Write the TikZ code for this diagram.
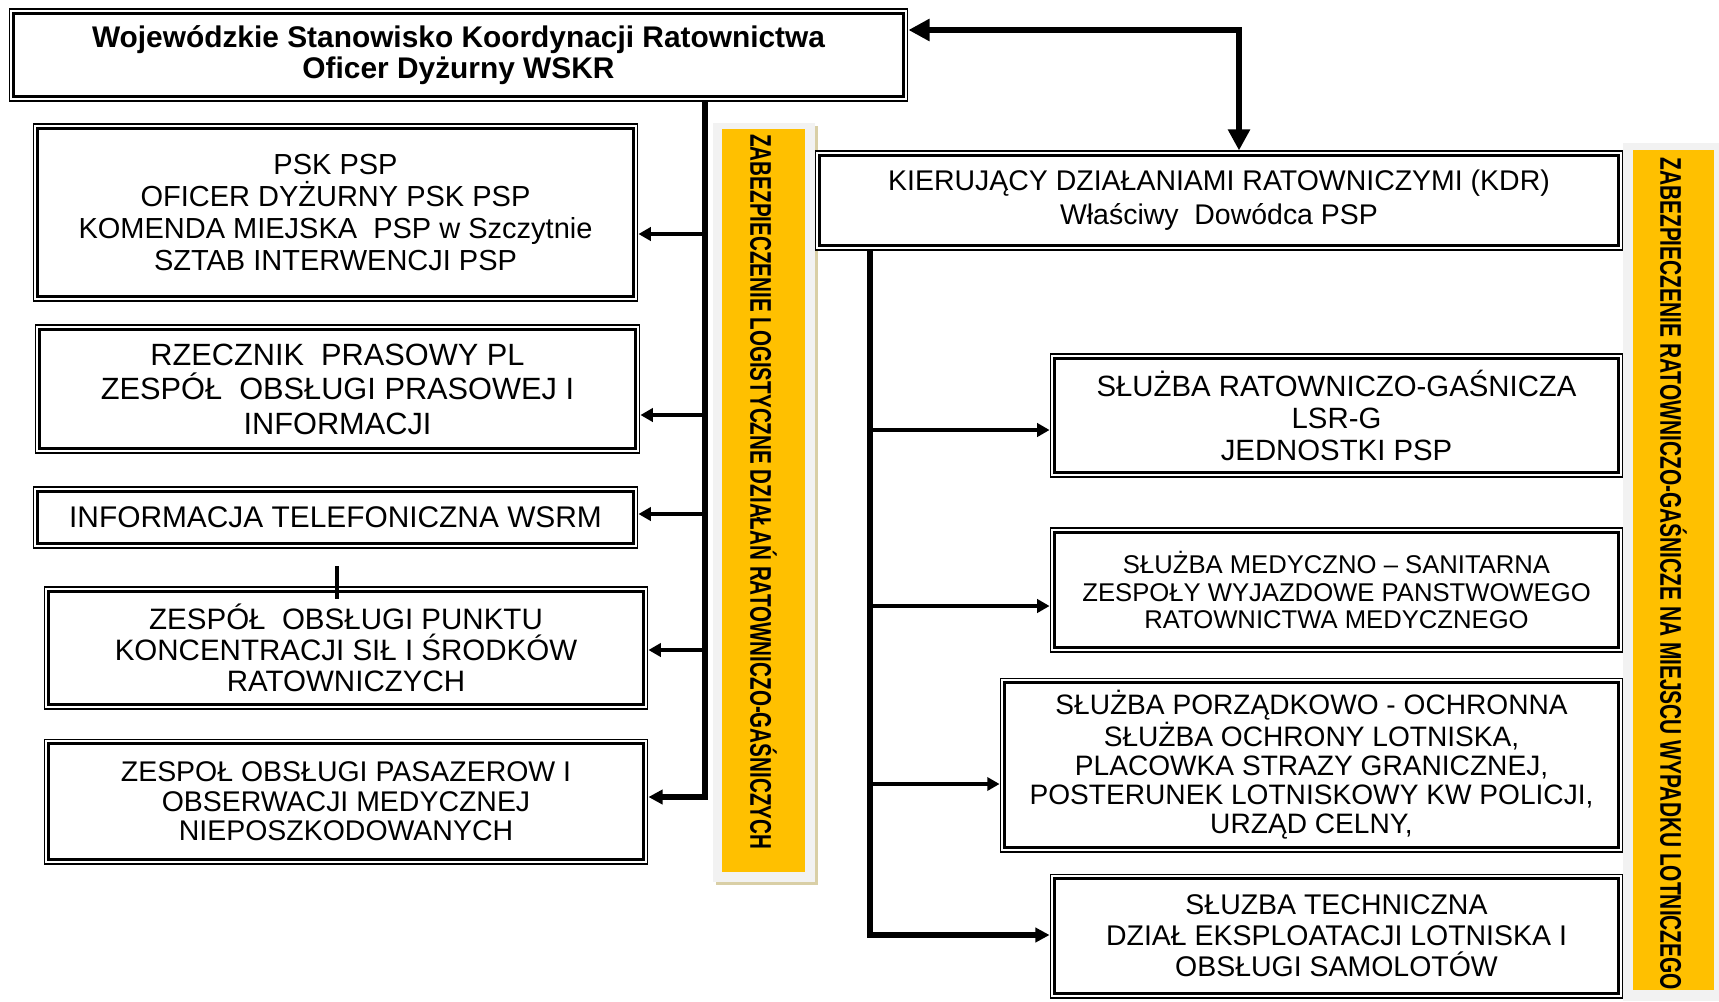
\documentclass[tikz,border=0pt]{standalone}
\usepackage{fontspec}
\setmainfont{Liberation Sans}
\usepackage{graphicx}
\usepackage{tikz}
\usetikzlibrary{arrows.meta,calc}
\definecolor{barYellow}{HTML}{FFC000}
\definecolor{barGrey}{HTML}{F2F2F2}
\definecolor{barShadow}{HTML}{D9CFA6}
\tikzset{
  orgbox/.style={draw, line width=0.6pt, fill=white, align=center, inner sep=2pt,
    path picture={\draw[line width=1.6pt]
      ([shift={(2.6pt,-2.6pt)}]path picture bounding box.north west) rectangle
      ([shift={(-2.6pt,2.6pt)}]path picture bounding box.south east);}},
  trunkline/.style={line width=3.4pt},
  arr/.style={-{Triangle[length=7pt,width=7.5pt]}, line width=2.2pt},
  trunkarr/.style={trunkline, -{Triangle[length=8pt,width=8pt]}},
  bigarr/.style={{Triangle[length=12pt,width=12pt]}-{Triangle[length=12pt,width=12pt]}, line width=3.2pt},
  bartext/.style={rotate=-90, anchor=west, inner sep=0pt, font=\fontsize{17}{17}\selectfont\bfseries}
}

\begin{document}
\begin{tikzpicture}[x=0.02cm,y=-0.02cm]
    \useasboundingbox (0,0) rectangle (1719,1001);
    \fill[barShadow] (716,126) rectangle (818,885);
    \fill[barGrey] (713,123) rectangle (815,882);
    \fill[barYellow] (722,129) rectangle (805,872);
    \node[bartext] (lbar) at (763.5,134)
      {\scalebox{0.69}[1]{ZABEZPIECZENIE LOGISTYCZNE DZIAŁAŃ RATOWNICZO-GAŚNICZYCH}};
    \fill[barGrey] (1623,143) rectangle (1719,1001);
    \fill[barYellow] (1633,150) rectangle (1714,990);
    \node[bartext] (rbar) at (1673.5,157)
      {\scalebox{0.7}[1]{ZABEZPIECZENIE RATOWNICZO-GAŚNICZE NA MIEJSCU WYPADKU LOTNICZEGO}};

    \node[orgbox, minimum width=17.98cm, minimum height=1.84cm,
      font=\fontsize{17}{18}\selectfont\bfseries] (wskr) at (458.5,55)
      {Wojewódzkie Stanowisko Koordynacji Ratownictwa\\Oficer Dyżurny WSKR};
    \node[orgbox, minimum width=12.1cm, minimum height=3.54cm,
      font=\fontsize{16.5}{18.3}\selectfont] (psk) at (335.5,212.5)
      {PSK PSP\\OFICER DYŻURNY PSK PSP\\KOMENDA MIEJSKA\ \ PSP w Szczytnie\\SZTAB INTERWENCJI PSP};
    \node[orgbox, minimum width=12.1cm, minimum height=2.56cm,
      font=\fontsize{17.5}{19.6}\selectfont] (rzecznik) at (337.5,389)
      {RZECZNIK\ \ PRASOWY PL\\ZESPÓŁ\ \ OBSŁUGI PRASOWEJ I\\INFORMACJI};
    \node[orgbox, minimum width=12.1cm, minimum height=1.22cm,
      font=\fontsize{17}{19}\selectfont] (info) at (335.5,517.5)
      {INFORMACJA TELEFONICZNA WSRM};
    \node[orgbox, minimum width=12.08cm, minimum height=2.44cm,
      font=\fontsize{16.8}{17.8}\selectfont] (punkt) at (346,648)
      {ZESPÓŁ\ \ OBSŁUGI PUNKTU\\KONCENTRACJI SIŁ I ŚRODKÓW\\RATOWNICZYCH};
    \node[orgbox, minimum width=12.08cm, minimum height=2.5cm,
      font=\fontsize{16.2}{16.8}\selectfont] (pasazer) at (346,801.5)
      {ZESPOŁ OBSŁUGI PASAZEROW I\\OBSERWACJI MEDYCZNEJ\\NIEPOSZKODOWANYCH};

    \node[orgbox, minimum width=16.16cm, minimum height=1.98cm,
      font=\fontsize{16.2}{19.4}\selectfont] (kdr) at (1219,200.5)
      {KIERUJĄCY DZIAŁANIAMI RATOWNICZYMI (KDR)\\Właściwy\ \ Dowódca PSP};
    \node[orgbox, minimum width=11.46cm, minimum height=2.46cm,
      font=\fontsize{16.7}{18.1}\selectfont] (rg) at (1336.5,415.5)
      {SŁUŻBA RATOWNICZO-GAŚNICZA\\LSR-G\\JEDNOSTKI PSP};
    \node[orgbox, minimum width=11.46cm, minimum height=2.48cm,
      font=\fontsize{14.6}{15.8}\selectfont] (med) at (1336.5,590)
      {SŁUŻBA MEDYCZNO – SANITARNA\\ZESPOŁY WYJAZDOWE PANSTWOWEGO\\RATOWNICTWA MEDYCZNEGO};
    \node[orgbox, minimum width=12.46cm, minimum height=3.48cm,
      font=\fontsize{16}{16.5}\selectfont] (porz) at (1311.5,765)
      {SŁUŻBA PORZĄDKOWO - OCHRONNA\\SŁUŻBA OCHRONY LOTNISKA,\\PLACOWKA STRAZY GRANICZNEJ,\\POSTERUNEK LOTNISKOWY KW POLICJI,\\URZĄD CELNY,};
    \node[orgbox, minimum width=11.46cm, minimum height=2.48cm,
      font=\fontsize{16.2}{17.7}\selectfont] (tech) at (1336.5,936)
      {SŁUZBA TECHNICZNA\\DZIAŁ EKSPLOATACJI LOTNISKA I\\OBSŁUGI SAMOLOTÓW};

    \coordinate (topbend) at (1239,30);
    \draw[bigarr] (wskr.east |- topbend) -- (topbend) -- (topbend |- kdr.north);

    \coordinate (lbend) at (705,797);
    \draw[trunkarr] (wskr.south -| lbend) -- (lbend) -- (lbend -| pasazer.east);
    \foreach \n/\y in {psk/234, rzecznik/415, info/514, punkt/650}
      \draw[arr] (lbend |- 0,\y) -- (\n.east |- 0,\y);
    \draw[line width=2pt] ($(punkt.north)+(-9,-20)$) -- ($(punkt.north)+(-9,13)$);

    \coordinate (rbend) at (870,935);
    \draw[trunkarr] (kdr.south -| rbend) -- (rbend) -- (rbend -| tech.west);
    \foreach \n/\y in {rg/430, med/606, porz/784}
      \draw[arr] (rbend |- 0,\y) -- (\n.west |- 0,\y);
  \end{tikzpicture}
\end{document}
